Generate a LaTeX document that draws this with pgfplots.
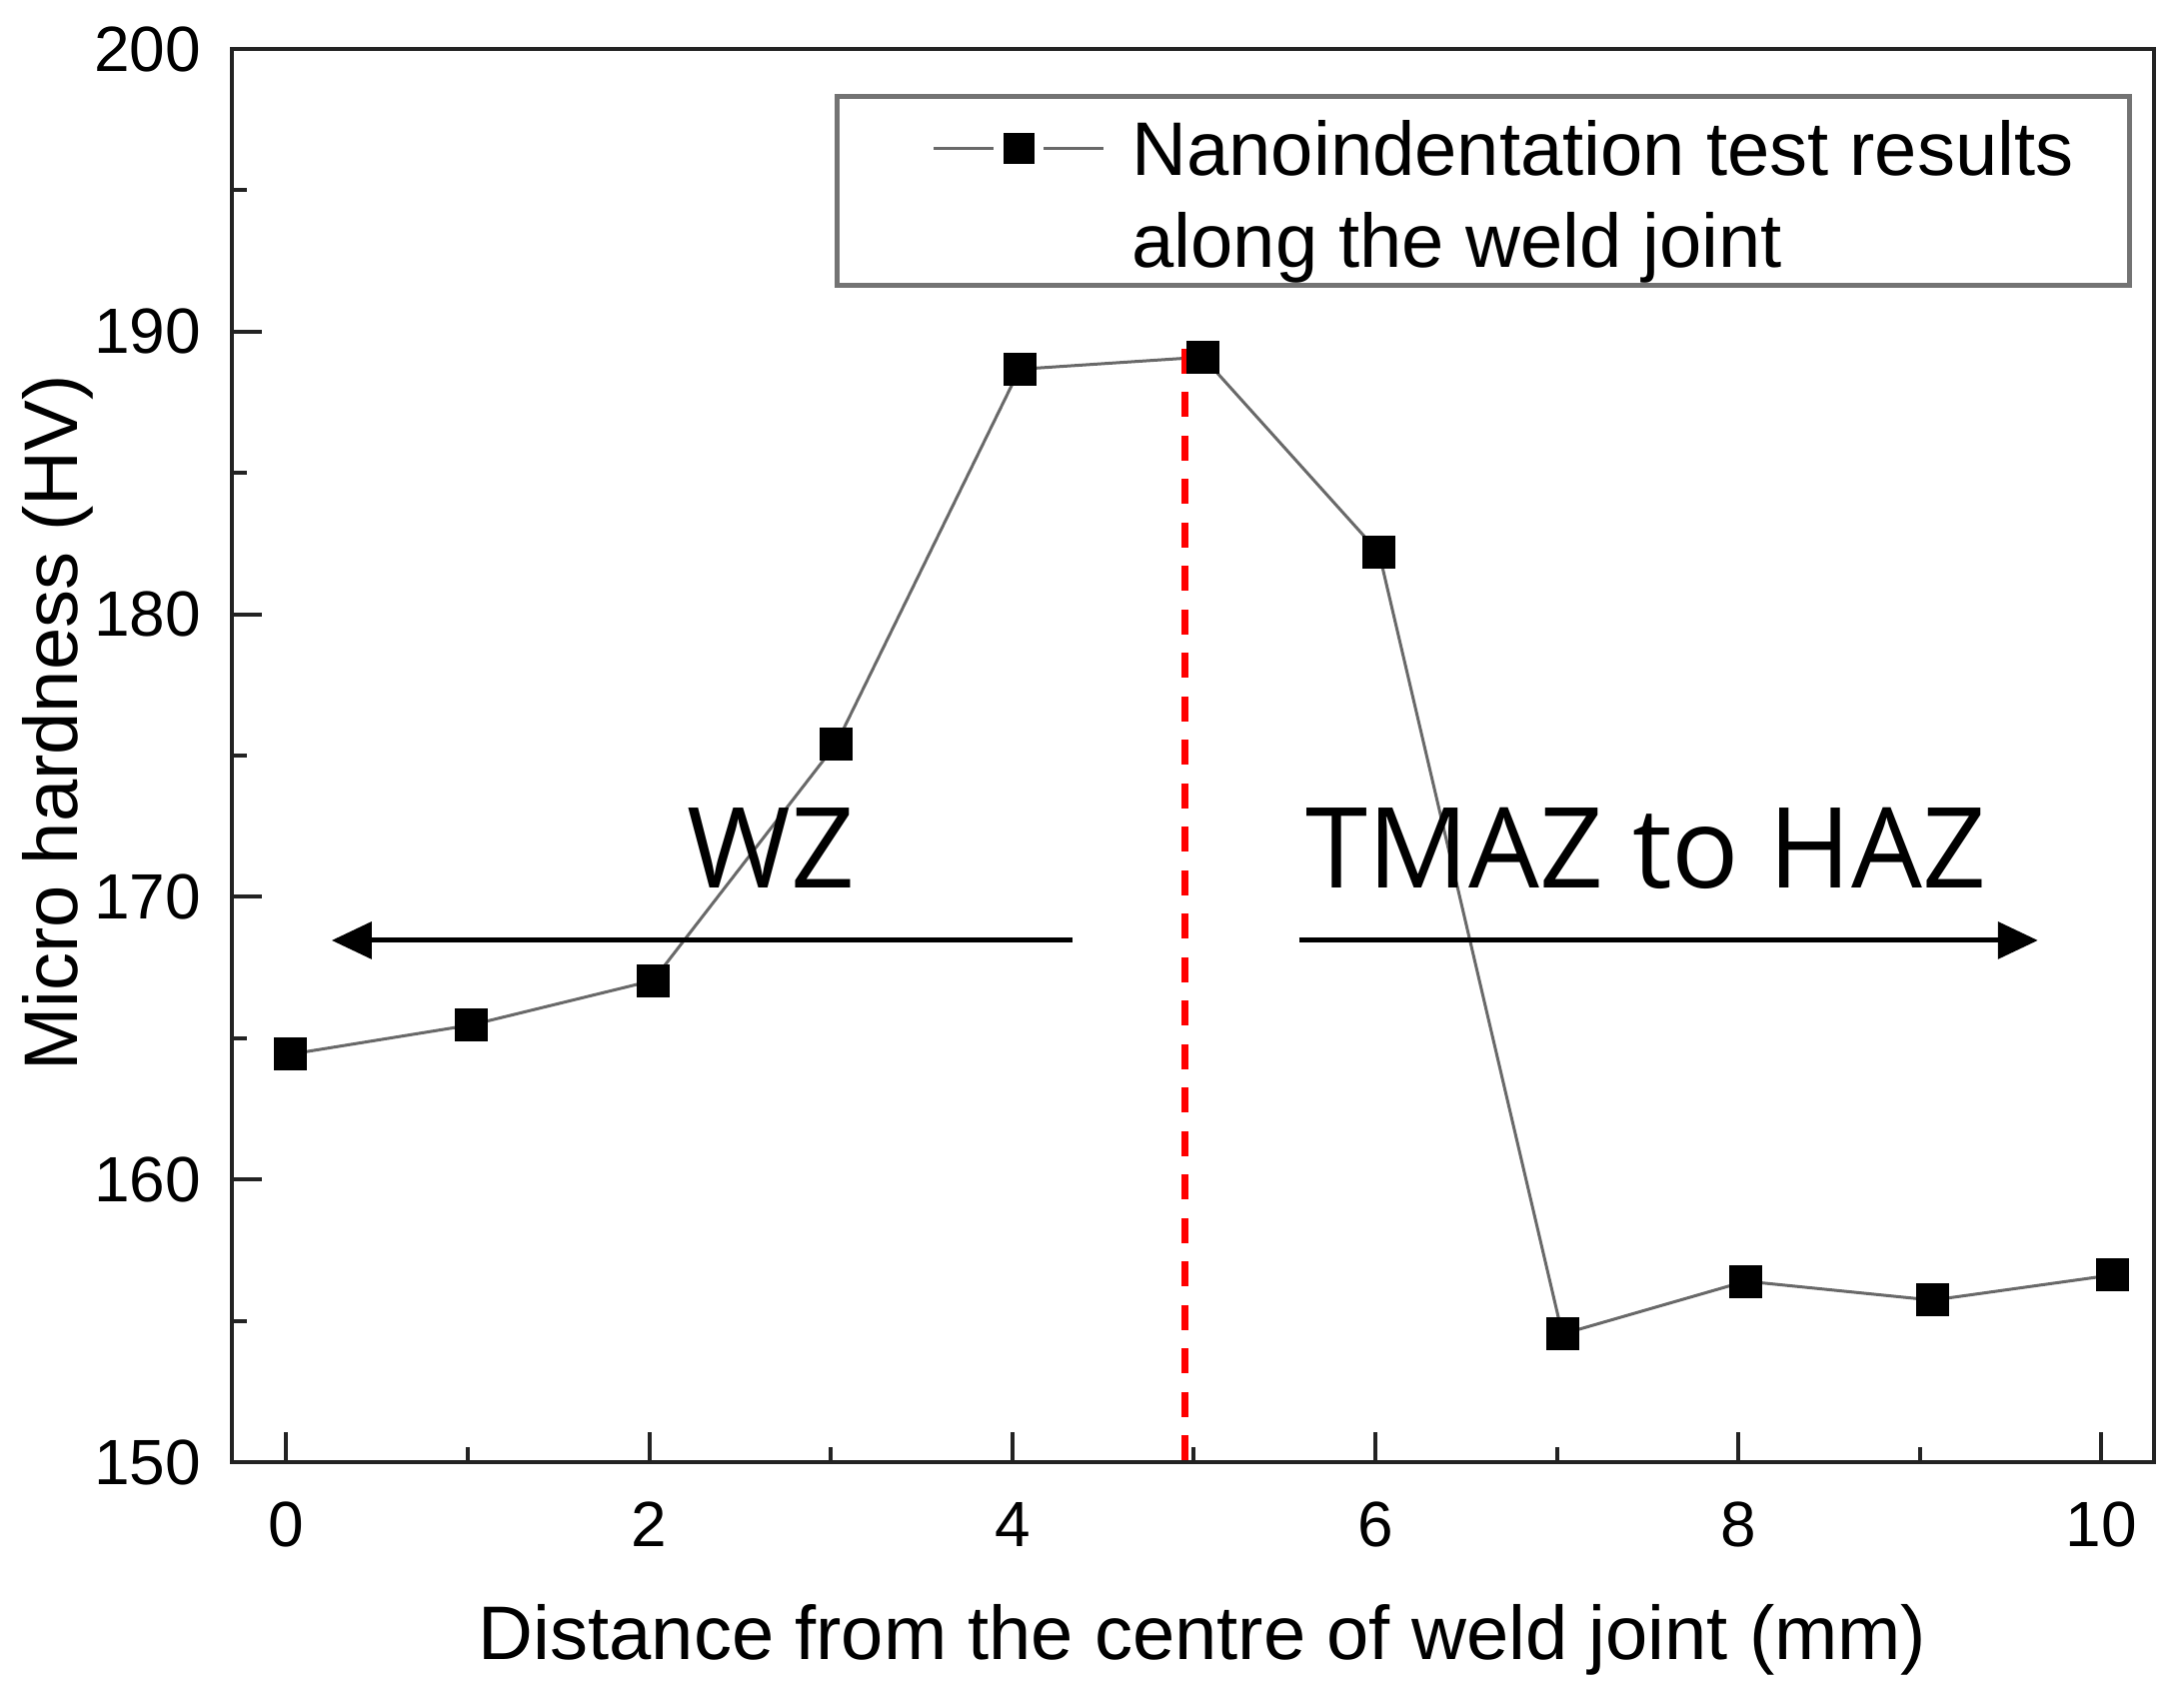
\documentclass[border=0pt]{standalone}
\usepackage{fontspec}
\setmainfont{Liberation Sans}
\newfontfamily\annfont{Open Sans}
\usepackage{pgfplots}
\pgfplotsset{compat=1.18}
\usetikzlibrary{arrows.meta}
\definecolor{datagray}{RGB}{105,105,105}
\definecolor{legendgray}{RGB}{115,115,115}
\definecolor{axisgray}{RGB}{35,35,35}
\begin{document}
\begin{tikzpicture}
\path[use as bounding box] (-46.4bp,-45.6bp) rectangle (390.6bp,292.6bp);
\begin{axis}[
  scale only axis, width=384.6bp, height=282.8bp,
  at={(0,0)}, anchor=south west,
  xmin=-0.30, xmax=10.29, ymin=150, ymax=200,
  clip=false,
  xtick={0,2,...,10}, minor xtick={1,3,5,7,9},
  ytick={150,160,...,200}, minor ytick={155,165,...,195},
  tick pos=left, tick align=inside,
  major tick length=6bp, minor tick length=3bp,
  axis line style={line width=0.8bp, draw=axisgray},
  tick style={line width=0.8bp, draw=axisgray},
  tick label style={font=\fontsize{12.8bp}{15bp}\selectfont, /pgf/number format/assume math mode=true, inner sep=0bp},
  xticklabel style={anchor=base, yshift=-16.8bp},
  yticklabel style={anchor=east, xshift=-6bp},
  label style={font=\fontsize{15.2bp}{18bp}\selectfont},
  xlabel={Distance from the centre of weld joint (mm)},
  ylabel={Micro hardness (HV)},
  xlabel style={at={(axis description cs:0.505,0)}, anchor=base, yshift=-39.4bp},
  ylabel style={at={(axis description cs:0,0.523)}, anchor=base, yshift=30.8bp},
  legend image code/.code={%
    \path (-19bp,0bp) (39.4bp,0bp);
    \draw[#1] (0bp,5.5bp) -- (12bp,5.5bp);
    \draw[#1] (22bp,5.5bp) -- (34bp,5.5bp);
    \draw[#1, only marks, mark size=3bp] plot coordinates {(17bp,5.5bp)};
  },
  legend style={at={(axis description cs:0.3136,0.9682)}, anchor=north west,
    draw=legendgray, line width=1bp, inner xsep=0bp, inner ysep=0bp,
    font=\fontsize{15.2bp}{18.3bp}\selectfont,
    nodes={inner sep=0bp, text depth=},
    cells={anchor=base west}},
]
\addplot[datagray, line width=0.6bp, mark=square*, mark size=3.2bp,
  mark options={fill=black, draw=black, line width=0pt, solid}]
  coordinates {(0.02,164.43) (1.02,165.47) (2.02,167.04) (3.03,175.42) (4.04,188.67)
               (5.05,189.10) (6.02,182.18) (7.03,154.53) (8.04,156.40) (9.07,155.73) (10.06,156.62)};
\addlegendentry{\parbox[t]{199.6bp}{\rule{0pt}{15.9bp}Nanoindentation test results\\along the weld joint\rule[-3.6bp]{0pt}{3.6bp}}}
\addplot[red, line width=1.4bp, dash pattern=on 5bp off 3.7bp, forget plot]
  coordinates {(4.95,189.4) (4.95,149.65)};
\addplot[black, line width=1bp, -{Triangle[length=8bp,width=7.3bp]}, forget plot]
  coordinates {(4.33,168.46) (0.25,168.46)};
\addplot[black, line width=1bp, -{Triangle[length=8bp,width=7.3bp]}, forget plot]
  coordinates {(5.58,168.46) (9.65,168.46)};
\node[font=\annfont\fontsize{22.4bp}{26bp}\selectfont, anchor=base, inner sep=0bp] at (axis cs:2.67,170.33) {WZ};
\node[font=\annfont\fontsize{22.4bp}{26bp}\selectfont, anchor=base, inner sep=0bp] at (axis cs:7.49,170.33) {TMAZ to HAZ};
\end{axis}
\end{tikzpicture}
\end{document}
